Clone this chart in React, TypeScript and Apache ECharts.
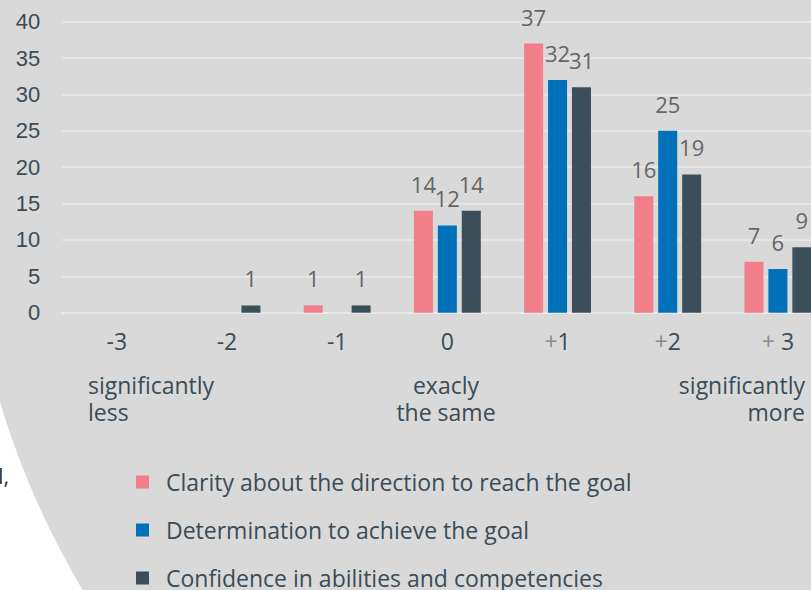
import React, { useEffect, useRef } from "react";
import * as echarts from "echarts";

const categories = ["-3", "-2", "-1", "0", "+1", "+2", "+ 3"];
const seriesNames = [
  "Clarity about the direction to reach the goal",
  "Determination to achieve the goal",
  "Confidence in abilities and competencies",
];
const clarity = [0, 0, 1, 14, 37, 16, 7];
const determination = [0, 0, 0, 12, 32, 25, 6];
const confidence = [0, 1, 1, 14, 31, 19, 9];
const colors = ["#f07f89", "#0070b8", "#3a4f5a"];
const yTicks = [0, 5, 10, 15, 20, 25, 30, 35, 40];

const FONT = "'Open Sans', 'Noto Sans', sans-serif";
const TEXT = "#3a4c57";
const CHART_W = 840;

export default function App() {
  const ref = useRef<HTMLDivElement>(null);
  useEffect(() => {
    if (!ref.current) return;
    const chart = echarts.init(ref.current, undefined, { renderer: "svg" });
    const values = [clarity, determination, confidence];
    chart.setOption({
      animation: false,
      backgroundColor: "#ffffff",
      graphic: [
        {
          type: "circle",
          z: -100,
          silent: true,
          shape: { cx: 799, cy: 163, r: 834 },
          style: { fill: "#d9d9d9" },
        },
        {
          type: "text",
          z: -50,
          x: -2,
          y: 475,
          style: { text: "l,", font: `22px ${FONT}`, fill: "#333", verticalAlign: "middle" },
        },
        {
          type: "text",
          x: 88,
          y: 398,
          style: {
            text: "significantly\nless",
            font: `23px ${FONT}`,
            lineHeight: 27,
            fill: TEXT,
            align: "left",
            verticalAlign: "middle",
          },
        },
        {
          type: "text",
          x: 446,
          y: 398,
          style: {
            text: "exacly\nthe same",
            font: `23px ${FONT}`,
            lineHeight: 27,
            fill: TEXT,
            align: "center",
            verticalAlign: "middle",
          },
        },
        {
          type: "text",
          x: 805,
          y: 398,
          style: {
            text: "significantly\nmore",
            font: `23px ${FONT}`,
            lineHeight: 27,
            fill: TEXT,
            align: "right",
            verticalAlign: "middle",
          },
        },
      ],
      legend: {
        orient: "vertical",
        left: 136,
        top: 470,
        height: 200,
        padding: 0,
        itemWidth: 13,
        itemHeight: 13,
        itemGap: 24,
        icon: "rect",
        data: seriesNames,
        textStyle: {
          fontFamily: FONT,
          fontSize: 23,
          lineHeight: 24,
          color: TEXT,
          padding: [0, 0, 0, 12],
        },
      },
      grid: { left: 61.7, right: CHART_W - 833, top: 21.7, bottom: 277.3, containLabel: false },
      xAxis: {
        type: "category",
        data: categories,
        axisLine: { show: true, lineStyle: { color: "#e9e9e9", width: 2 } },
        axisTick: { show: false },
        axisLabel: {
          interval: 0,
          margin: 17,
          fontFamily: FONT,
          fontSize: 23,
          color: TEXT,
          formatter: (v: string) =>
            v.startsWith("+") ? `{p|+}{n|${v.slice(1)}}` : `{n|${v}}`,
          rich: {
            p: { fontFamily: FONT, fontSize: 23, color: "#8a8a8a" },
            n: { fontFamily: FONT, fontSize: 23, color: TEXT },
          },
        },
      },
      yAxis: {
        type: "value",
        min: yTicks[0],
        max: yTicks[yTicks.length - 1],
        interval: 5,
        axisLine: { show: false },
        axisTick: { show: false },
        splitLine: { lineStyle: { color: "#e9e9e9", width: 1.5 } },
        axisLabel: {
          margin: 21.5,
          fontFamily: "'Liberation Sans', Arial, sans-serif",
          fontSize: 22,
          color: TEXT,
        },
      },
      series: seriesNames.map((name, i) => ({
        name,
        type: "bar",
        data: values[i],
        barWidth: 19,
        barGap: "26%",
        itemStyle: { color: colors[i] },
        label: {
          show: true,
          position: "top",
          distance: 16,
          fontFamily: FONT,
          fontSize: 22,
          color: "#666666",
          formatter: (p: any) => (p.value > 0 ? String(p.value) : ""),
        },
      })),
    });
    return () => chart.dispose();
  }, []);
  return (
    <div
      style={{
        position: "fixed",
        left: 0,
        top: 0,
        width: 811,
        height: 590,
        overflow: "hidden",
        background: "#ffffff",
      }}
    >
      <div ref={ref} style={{ width: CHART_W, height: 590 }} />
    </div>
  );
}
